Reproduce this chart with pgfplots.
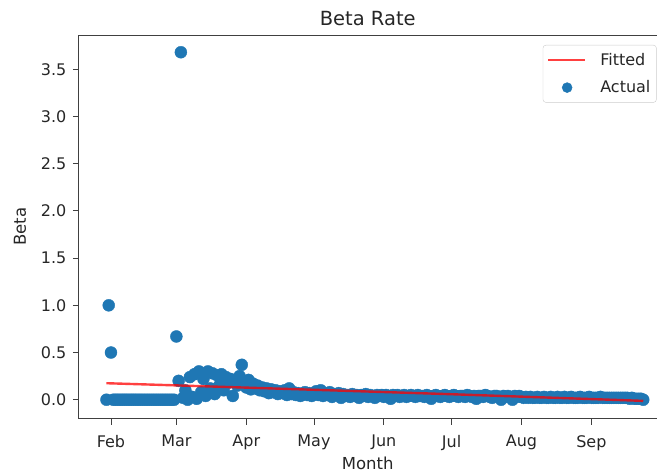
\documentclass[border=0pt]{standalone}
\usepackage{pgfplots}
\pgfplotsset{compat=1.18}
\usepackage{fontspec}
\setmainfont{DejaVu Sans}
\definecolor{mplblue}{HTML}{1F77B4}
\begin{document}
\begin{tikzpicture}
\path (-79pt,-55pt) rectangle (578pt,419pt);
\begin{axis}[
  set layers,
  at={(0pt,0pt)}, anchor=south west,
  scale only axis,
  width=578pt, height=384pt,
  xmin=16.8, xmax=272.9,
  ymin=-0.201, ymax=3.863,
  axis x line*=bottom, axis y line*=left,
  axis line style={black!75, line width=0.9pt},
  tick style={black!75, line width=0.9pt},
  tick align=outside,
  major tick length=6pt,
  xtick={31,60,91,121,152,182,213,244},
  xticklabels={Feb,Mar,Apr,May,Jun,Jul,Aug,Sep},
  ytick={0,0.5,1,1.5,2,2.5,3,3.5},
  yticklabel style={xshift=-3pt, /pgf/number format/.cd, fixed, fixed zerofill, precision=1},
  /pgf/number format/assume math mode=true,
  ticklabel style={font=\fontsize{16}{19}\selectfont, text=black!85},
  xticklabel style={yshift=-7pt},
  xtick pos=bottom, ytick pos=left,
  xlabel={Month}, ylabel={Beta},
  ylabel shift=8pt,
  label style={font=\fontsize{16.5}{19}\selectfont, text=black!85},
  title={Beta Rate},
  title style={font=\fontsize{19.5}{23}\selectfont, text=black!85},
  legend style={at={(0.803,0.974)}, anchor=north west, draw=black!20,
    rounded corners=3pt, font=\fontsize{16}{19}\selectfont, text=black!85,
    inner xsep=4pt, inner ysep=6pt, row sep=10pt, column sep=12pt, cells={anchor=west}},
  clip=false,
]
\addlegendimage{legend image code/.code={\draw[red, draw opacity=0.75, line width=2.4pt] (0pt,0pt) -- (37pt,0pt);}}
\addlegendentry{Fitted}
\addlegendimage{legend image code/.code={\fill[mplblue] (19pt,0pt) circle (5pt);}}
\addlegendentry{Actual}
\addplot[only marks, mark=*, mark size=6pt, mplblue, mark options={draw=mplblue, fill=mplblue}, forget plot]
  coordinates {
(29,0) (30,1.0) (31,0.5) (32,0) (33,0) (34,0) (35,0) (36,0) (37,0) (38,0) (39,0)
(40,0) (41,0) (42,0) (43,0) (44,0) (45,0) (46,0) (47,0) (48,0) (49,0) (50,0)
(51,0) (52,0) (53,0) (54,0) (55,0) (56,0) (57,0) (58,0) (59,0)
(60,0.67) (61,0.20) (62,3.68) (63,0.02) (64,0.10) (65,0.00) (66,0.24) (67,0.03)
(68,0.27) (69,0.01) (70,0.30) (71,0.08) (72,0.22) (73,0.04) (74,0.30) (75,0.12)
(76,0.28) (77,0.06) (78,0.26) (79,0.15) (80,0.27) (81,0.10) (82,0.24) (83,0.18)
(84,0.22) (85,0.04) (86,0.20) (87,0.15) (88,0.25) (89,0.37) (90,0.18) (91,0.13)
(92,0.21) (93,0.11) (94,0.17) (95,0.12) (96,0.15) (97,0.10) (98,0.13) (99,0.09)
(100,0.12) (101,0.07) (102,0.11) (103,0.08) (104,0.10) (105,0.06) (106,0.09)
(107,0.07) (108,0.10) (109,0.05) (110,0.12) (111,0.06) (112,0.08) (113,0.05)
(114,0.07) (115,0.04) (116,0.06) (117,0.08) (118,0.05) (119,0.07) (120,0.04)
(121,0.06) (122,0.09) (123,0.05) (124,0.10) (125,0.04) (126,0.07) (127,0.05)
(128,0.08) (129,0.03) (130,0.06) (131,0.05) (132,0.07) (133,0.02) (134,0.06)
(135,0.04) (136,0.05) (137,0.03) (138,0.06) (139,0.04) (140,0.05) (141,0.02)
(142,0.05) (143,0.04) (144,0.06) (145,0.03) (146,0.05) (147,0.04) (148,0.02)
(149,0.05) (150,0.04) (151,0.05) (152,0.03) (153,0.05) (154,0.04) (155,0.01)
(156,0.05) (157,0.04) (158,0.05) (159,0.03) (160,0.04) (161,0.05) (162,0.03)
(163,0.04) (164,0.05) (165,0.04) (166,0.03) (167,0.05) (168,0.04) (169,0.04)
(170,0.03) (171,0.05) (172,0.04) (173,0.01) (174,0.04) (175,0.05) (176,0.04)
(177,0.03) (178,0.04) (179,0.05) (180,0.04) (181,0.03) (182,0.04) (183,0.05)
(184,0.04) (185,0.03) (186,0.04) (187,0.04) (188,0.03) (189,0.05) (190,0.04)
(191,0.03) (192,0.04) (193,0.01) (194,0.04) (195,0.04) (196,0.03) (197,0.05)
(198,0.04) (199,0.03) (200,0.02) (201,0.04) (202,0.04) (203,0.03) (204,0.00)
(205,0.04) (206,0.03) (207,0.04) (208,0.03) (209,0.00) (210,0.04) (211,0.03)
(212,0.04) (213,0.03) (214,0.02) (215,0.03) (216,0.02) (217,0.03) (218,0.02)
(219,0.02) (220,0.03) (221,0.02) (222,0.02) (223,0.03) (224,0.02) (225,0.02)
(226,0.03) (227,0.02) (228,0.02) (229,0.03) (230,0.02) (231,0.02) (232,0.03)
(233,0.02) (234,0.02) (235,0.03) (236,0.02) (237,0.02) (238,0.02) (239,0.03)
(240,0.02) (241,0.02) (242,0.02) (243,0.03) (244,0.02) (245,0.02) (246,0.02)
(247,0.02) (248,0.03) (249,0.02) (250,0.02) (251,0.02) (252,0.02) (253,0.02)
(254,0.02) (255,0.02) (256,0.02) (257,0.02) (258,0.02) (259,0.02) (260,0.02)
(261,0.01) (262,0.02) (263,0.01) (264,0.01) (265,0.01) (266,0.01) (267,0.00)
  };
\addplot[red, draw opacity=0.75, line width=2.4pt, forget plot, on layer=axis foreground]
  coordinates {(29,0.175) (60,0.152) (115,0.11) (180,0.06) (267,-0.012)};
\draw[black!75, line width=0.9pt] (rel axis cs:0,1) -- (rel axis cs:1,1);
\end{axis}
\end{tikzpicture}
\end{document}
